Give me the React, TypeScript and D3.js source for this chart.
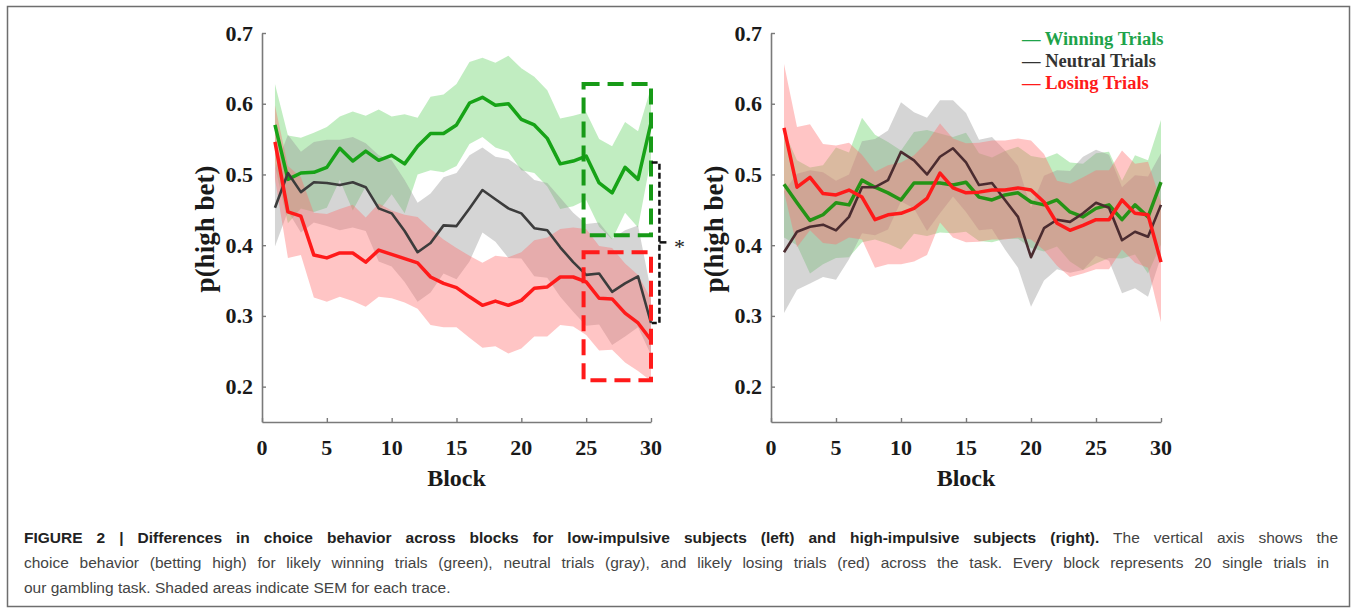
import React, { useRef, useEffect } from "react";
import * as d3 from "d3";

// block index (x categories)
const blocks = [
  1, 2, 3, 4, 5, 6, 7, 8, 9, 10, 11, 12, 13, 14, 15, 16, 17, 18, 19, 20, 21,
  22, 23, 24, 25, 26, 27, 28, 29, 30,
];

// low-impulsive subjects (left)
const leftWinMean = [
  0.57, 0.493, 0.502, 0.503, 0.51, 0.537, 0.519, 0.533, 0.52, 0.527, 0.515,
  0.54, 0.558, 0.558, 0.57, 0.601, 0.609, 0.598, 0.6, 0.578, 0.57, 0.551,
  0.515, 0.519, 0.526, 0.488, 0.474, 0.51, 0.493, 0.573,
];
const leftWinSem = [
  0.058, 0.062, 0.05, 0.056, 0.057, 0.045, 0.07, 0.05, 0.072, 0.055, 0.07,
  0.04, 0.052, 0.055, 0.058, 0.058, 0.056, 0.06, 0.068, 0.072, 0.068, 0.068,
  0.064, 0.064, 0.062, 0.062, 0.066, 0.064, 0.068, 0.05,
];
const leftNeuMean = [
  0.453, 0.502, 0.475, 0.489, 0.488, 0.485, 0.489, 0.482, 0.452, 0.445, 0.42,
  0.39, 0.403, 0.428, 0.427, 0.452, 0.478, 0.465, 0.452, 0.445, 0.424, 0.421,
  0.397, 0.376, 0.358, 0.36, 0.334, 0.346, 0.356, 0.29,
];
const leftNeuSem = [
  0.055, 0.054, 0.057, 0.057, 0.061, 0.064, 0.064, 0.062, 0.075, 0.075, 0.072,
  0.07, 0.07, 0.068, 0.075, 0.075, 0.06, 0.06, 0.07, 0.064, 0.068, 0.067,
  0.07, 0.07, 0.072, 0.072, 0.075, 0.075, 0.072, 0.045,
];
const leftLoseMean = [
  0.546, 0.447, 0.441, 0.386, 0.382, 0.389, 0.389, 0.376, 0.393, 0.387, 0.381,
  0.375, 0.355, 0.346, 0.34, 0.327, 0.315, 0.321, 0.315, 0.322, 0.339, 0.341,
  0.355, 0.355, 0.348, 0.325, 0.324, 0.304, 0.29, 0.266,
];
const leftLoseSem = [
  0.052, 0.065, 0.055, 0.06, 0.062, 0.062, 0.068, 0.063, 0.066, 0.062, 0.062,
  0.065, 0.068, 0.062, 0.056, 0.058, 0.06, 0.064, 0.068, 0.068, 0.068, 0.07,
  0.068, 0.07, 0.075, 0.074, 0.072, 0.07, 0.068, 0.058,
];

// high-impulsive subjects (right)
const rightWinMean = [
  0.486, 0.46, 0.435, 0.443, 0.46, 0.457, 0.492, 0.482, 0.474, 0.464, 0.488,
  0.488, 0.488, 0.485, 0.489, 0.468, 0.464, 0.471, 0.474, 0.461, 0.457, 0.464,
  0.447, 0.44, 0.452, 0.457, 0.436, 0.457, 0.44, 0.489,
];
const rightWinSem = [
  0.075, 0.06, 0.075, 0.07, 0.078, 0.074, 0.088, 0.074, 0.072, 0.07, 0.072,
  0.075, 0.07, 0.068, 0.07, 0.062, 0.06, 0.062, 0.065, 0.065, 0.066, 0.066,
  0.07, 0.075, 0.078, 0.075, 0.055, 0.07, 0.08, 0.088,
];
const rightNeuMean = [
  0.39, 0.419, 0.426, 0.429, 0.421, 0.44, 0.482, 0.482, 0.492, 0.532, 0.52,
  0.5, 0.525, 0.537, 0.517, 0.485, 0.488, 0.464, 0.44, 0.383, 0.424, 0.436,
  0.433, 0.445, 0.46, 0.453, 0.407, 0.419, 0.412, 0.457,
];
const rightNeuSem = [
  0.086, 0.082, 0.08, 0.074, 0.07, 0.06, 0.065, 0.068, 0.07, 0.07, 0.068,
  0.08, 0.08, 0.068, 0.07, 0.064, 0.065, 0.07, 0.072, 0.07, 0.074, 0.07,
  0.072, 0.08, 0.075, 0.075, 0.075, 0.08, 0.085, 0.073,
];
const rightLoseMean = [
  0.566, 0.482, 0.496, 0.473, 0.471, 0.478, 0.468, 0.436, 0.443, 0.445, 0.452,
  0.466, 0.502, 0.481, 0.474, 0.475, 0.478, 0.478, 0.481, 0.478, 0.461, 0.431,
  0.421, 0.428, 0.436, 0.436, 0.464, 0.445, 0.443, 0.376,
];
const rightLoseSem = [
  0.09, 0.085, 0.075, 0.07, 0.07, 0.067, 0.06, 0.068, 0.07, 0.072, 0.075,
  0.08, 0.07, 0.07, 0.07, 0.07, 0.07, 0.07, 0.07, 0.07, 0.068, 0.06, 0.066,
  0.068, 0.07, 0.07, 0.07, 0.07, 0.075, 0.085,
];

const xTicks = [0, 5, 10, 15, 20, 25, 30];
const xTickLabels = ["0", "5", "10", "15", "20", "25", "30"];
const yTicks = [0.2, 0.3, 0.4, 0.5, 0.6, 0.7];
const legendLabels = ["Winning Trials", "Neutral Trials", "Losing Trials"];

// annotation regions on the left panel (data units)
const winBox = { b0: 24.8, b1: 30, p0: 0.414, p1: 0.628 };
const loseBox = { b0: 24.8, b1: 30, p0: 0.209, p1: 0.39 };
const bracket = { b0: 30.05, b1: 30.65, top: 0.517, bottom: 0.29, mid: 0.404 };

const captionBold =
  "FIGURE 2 | Differences in choice behavior across blocks for low-impulsive subjects (left) and high-impulsive subjects (right).";
const captionLines = [
  " The vertical axis shows the",
  "choice behavior (betting high) for likely winning trials (green), neutral trials (gray), and likely losing trials (red) across the task. Every block represents 20 single trials in",
  "our gambling task. Shaded areas indicate SEM for each trace.",
];

const SERIF = "'Liberation Serif', 'Times New Roman', serif";
const SANS = "'Liberation Sans', Arial, sans-serif";

const App: React.FC = () => {
  const ref = useRef<SVGSVGElement | null>(null);

  useEffect(() => {
    const svg = d3.select(ref.current);
    svg.selectAll("*").remove();

    const y = d3.scaleLinear().domain([0.15, 0.7]).range([422, 33]);
    const fills = ["#64d264", "#969696", "#ff6e6e"];

    const panels = [
      {
        range: [262, 651],
        lines: ["#17a317", "#3c3c3c", "#ff1a1a"],
        series: [
          { mean: leftWinMean, sem: leftWinSem },
          { mean: leftNeuMean, sem: leftNeuSem },
          { mean: leftLoseMean, sem: leftLoseSem },
        ],
      },
      {
        range: [771, 1161],
        lines: ["#249416", "#4b2c30", "#ff1a1a"],
        series: [
          { mean: rightWinMean, sem: rightWinSem },
          { mean: rightNeuMean, sem: rightNeuSem },
          { mean: rightLoseMean, sem: rightLoseSem },
        ],
      },
    ];
    const lineWidths = [3.5, 2.6, 3.5];

    panels.forEach((p, pi) => {
      const x = d3.scaleLinear().domain([0, 30]).range(p.range);
      const g = svg.append("g");

      // SEM bands
      p.series.forEach((s, si) => {
        const area = d3
          .area<number>()
          .x((_, i) => x(blocks[i]))
          .y0((d, i) => y(d - s.sem[i]))
          .y1((d, i) => y(d + s.sem[i]));
        g.append("path")
          .attr("d", area(s.mean) as string)
          .attr("fill", fills[si])
          .attr("fill-opacity", 0.4)
          .attr("stroke", "none");
      });
      // mean traces
      p.series.forEach((s, si) => {
        const line = d3
          .line<number>()
          .x((_, i) => x(blocks[i]))
          .y((d) => y(d));
        g.append("path")
          .attr("d", line(s.mean) as string)
          .attr("fill", "none")
          .attr("stroke", p.lines[si])
          .attr("stroke-width", lineWidths[si])
          .attr("stroke-linejoin", "round");
      });

      // axes
      const yAxis = g
        .append("g")
        .attr("transform", `translate(${p.range[0]},0)`)
        .call(
          d3
            .axisLeft(y)
            .tickValues(yTicks)
            .tickSize(-4)
            .tickSizeOuter(0)
            .tickPadding(9)
            .tickFormat(d3.format(".1f"))
        );
      const xAxis = g
        .append("g")
        .attr("transform", `translate(0,${y(0.15)})`)
        .call(
          d3
            .axisBottom(x)
            .tickValues(xTicks)
            .tickSize(-4)
            .tickSizeOuter(0)
            .tickFormat(() => "")
        );
      [yAxis, xAxis].forEach((a) => {
        a.select(".domain").attr("stroke", "#7a7a7a").attr("stroke-width", 1.6);
        a.selectAll(".tick line").attr("stroke", "#7a7a7a").attr("stroke-width", 1.4);
        a.selectAll(".tick text")
          .attr("fill", "#1a1a1a")
          .style("font-family", SERIF)
          .style("font-weight", "bold")
          .style("font-size", "22px");
      });

      const cx = (p.range[0] + p.range[1]) / 2;
      g.append("text")
        .attr("x", cx)
        .attr("y", 486)
        .attr("text-anchor", "middle")
        .attr("fill", "#1a1a1a")
        .style("font-family", SERIF)
        .style("font-weight", "bold")
        .style("font-size", "24px")
        .text("Block");
      g.append("text")
        .attr("transform", `translate(${p.range[0] - 48},229) rotate(-90)`)
        .attr("text-anchor", "middle")
        .attr("fill", "#1a1a1a")
        .style("font-family", SERIF)
        .style("font-weight", "bold")
        .style("font-size", "27px")
        .text("p(high bet)");

      if (pi === 0) {
        const boxes = [
          { b: winBox, color: "#179a17" },
          { b: loseBox, color: "#ff1a1a" },
        ];
        boxes.forEach(({ b, color }) => {
          g.append("rect")
            .attr("x", x(b.b0))
            .attr("y", y(b.p1))
            .attr("width", x(b.b1) - x(b.b0))
            .attr("height", y(b.p0) - y(b.p1))
            .attr("fill", "none")
            .attr("stroke", color)
            .attr("stroke-width", 4)
            .attr("stroke-dasharray", "16 8");
        });
        const bx0 = x(bracket.b0);
        const bx1 = x(bracket.b1);
        g.append("path")
          .attr(
            "d",
            `M${bx0},${y(bracket.top)}H${bx1}V${y(bracket.bottom)}H${bx0}`
          )
          .attr("fill", "none")
          .attr("stroke", "#111")
          .attr("stroke-width", 2.5)
          .attr("stroke-dasharray", "6 3");
        g.append("path")
          .attr("d", `M${bx1},${y(bracket.mid)}h7`)
          .attr("stroke", "#111")
          .attr("stroke-width", 2.5);
        g.append("text")
          .attr("x", bx1 + 20)
          .attr("y", y(bracket.mid) + 12)
          .attr("text-anchor", "middle")
          .attr("fill", "#222")
          .style("font-family", SERIF)
          .style("font-size", "22px")
          .text("*");
      } else {
        const legColors = ["#1ea34a", "#333333", "#ff1a1a"];
        legendLabels.forEach((lab, i) => {
          g.append("text")
            .attr("x", 1022)
            .attr("y", 45 + i * 22)
            .attr("fill", legColors[i])
            .style("font-family", SERIF)
            .style("font-weight", "bold")
            .style("font-size", "18.5px")
            .text(`\u2014 ${lab}`);
        });
      }
    });

    // frame
    svg
      .append("rect")
      .attr("x", 7.5)
      .attr("y", 6.5)
      .attr("width", 1342)
      .attr("height", 600)
      .attr("fill", "none")
      .attr("stroke", "#6e6e6e")
      .attr("stroke-width", 1.5);

    // caption: first two lines justified to the text block width
    const cap = svg
      .append("g")
      .style("font-family", SANS)
      .style("font-size", "15.5px");
    const targets = [1314, 1305];
    const t1 = cap.append("text").attr("x", 24).attr("y", 543);
    t1.append("tspan")
      .attr("fill", "#222")
      .style("font-weight", "bold")
      .text(captionBold);
    t1.append("tspan").attr("fill", "#444").text(captionLines[0]);
    const rows: any[] = [t1];
    [1, 2].forEach((k) => {
      rows.push(
        cap
          .append("text")
          .attr("x", 24)
          .attr("y", 543 + k * 25)
          .attr("fill", "#444")
          .text(captionLines[k])
      );
    });
    [0, 1].forEach((k) => {
      const node = rows[k].node() as SVGTextElement;
      const full = k === 0 ? captionBold + captionLines[0] : captionLines[1];
      const gaps = (full.match(/ /g) || []).length;
      const natural = node.getComputedTextLength();
      const ws = (targets[k] - natural) / gaps;
      rows[k].style("word-spacing", `${ws}px`);
    });

    // x tick labels, drawn last so nothing sits over them
    panels.forEach((p) => {
      const x = d3.scaleLinear().domain([0, 30]).range(p.range);
      const lg = svg.append("g");
      xTicks.forEach((t, i) => {
        lg.append("text")
          .attr("x", x(t))
          .attr("y", 455)
          .attr("text-anchor", "middle")
          .attr("fill", "#1a1a1a")
          .style("font-family", SERIF)
          .style("font-weight", "bold")
          .style("font-size", "22px")
          .text(xTickLabels[i]);
      });
    });
  }, []);

  return (
    <svg
      ref={ref}
      width={1357}
      height={608}
      style={{ position: "absolute", left: 0, top: 0, background: "#fff" }}
    />
  );
};

export default App;
